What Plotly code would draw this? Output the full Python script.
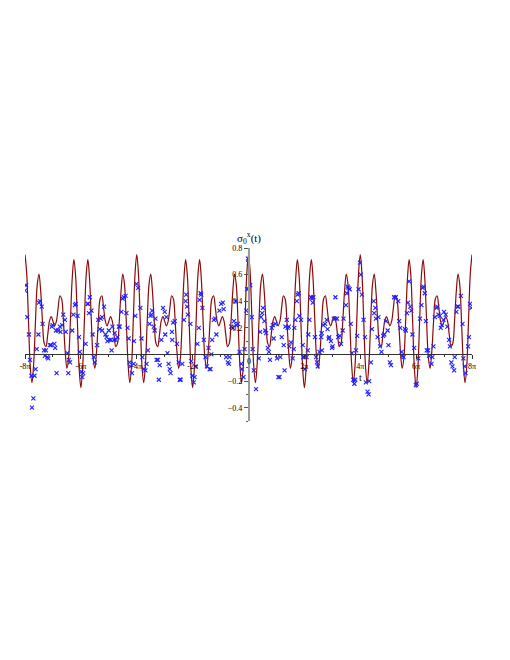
import numpy as np
import plotly.graph_objects as go

# red curve, sampled every pi/16 from -8pi to 8pi
curve_k = list(range(-128, 129))
curve_y = [
    0.750, 0.602, 0.250, -0.088, -0.212, -0.062, 0.250, 0.523,
    0.604, 0.474, 0.250, 0.083, 0.059, 0.147, 0.250, 0.285,
    0.250, 0.215, 0.250, 0.353, 0.441, 0.417, 0.250, 0.026,
    -0.104, -0.023, 0.250, 0.562, 0.712, 0.588, 0.250, -0.102,
    -0.250, -0.102, 0.250, 0.588, 0.712, 0.562, 0.250, -0.023,
    -0.104, 0.026, 0.250, 0.417, 0.441, 0.353, 0.250, 0.215,
    0.250, 0.285, 0.250, 0.147, 0.059, 0.083, 0.250, 0.474,
    0.604, 0.523, 0.250, -0.062, -0.212, -0.088, 0.250, 0.602,
    0.750, 0.602, 0.250, -0.088, -0.212, -0.062, 0.250, 0.523,
    0.604, 0.474, 0.250, 0.083, 0.059, 0.147, 0.250, 0.285,
    0.250, 0.215, 0.250, 0.353, 0.441, 0.417, 0.250, 0.026,
    -0.104, -0.023, 0.250, 0.562, 0.712, 0.588, 0.250, -0.102,
    -0.250, -0.102, 0.250, 0.588, 0.712, 0.562, 0.250, -0.023,
    -0.104, 0.026, 0.250, 0.417, 0.441, 0.353, 0.250, 0.215,
    0.250, 0.285, 0.250, 0.147, 0.059, 0.083, 0.250, 0.474,
    0.604, 0.523, 0.250, -0.062, -0.212, -0.088, 0.250, 0.602,
    0.750, 0.602, 0.250, -0.088, -0.212, -0.062, 0.250, 0.523,
    0.604, 0.474, 0.250, 0.083, 0.059, 0.147, 0.250, 0.285,
    0.250, 0.215, 0.250, 0.353, 0.441, 0.417, 0.250, 0.026,
    -0.104, -0.023, 0.250, 0.562, 0.712, 0.588, 0.250, -0.102,
    -0.250, -0.102, 0.250, 0.588, 0.712, 0.562, 0.250, -0.023,
    -0.104, 0.026, 0.250, 0.417, 0.441, 0.353, 0.250, 0.215,
    0.250, 0.285, 0.250, 0.147, 0.059, 0.083, 0.250, 0.474,
    0.604, 0.523, 0.250, -0.062, -0.212, -0.088, 0.250, 0.602,
    0.750, 0.602, 0.250, -0.088, -0.212, -0.062, 0.250, 0.523,
    0.604, 0.474, 0.250, 0.083, 0.059, 0.147, 0.250, 0.285,
    0.250, 0.215, 0.250, 0.353, 0.441, 0.417, 0.250, 0.026,
    -0.104, -0.023, 0.250, 0.562, 0.712, 0.588, 0.250, -0.102,
    -0.250, -0.102, 0.250, 0.588, 0.712, 0.562, 0.250, -0.023,
    -0.104, 0.026, 0.250, 0.417, 0.441, 0.353, 0.250, 0.215,
    0.250, 0.285, 0.250, 0.147, 0.059, 0.083, 0.250, 0.474,
    0.604, 0.523, 0.250, -0.062, -0.212, -0.088, 0.250, 0.602,
    0.750,
]

# blue samples: t in units of pi, and value
sample_t = [
    -7.96, -8.00, -7.92, -7.86, -7.82, -7.77, -7.66, -7.62, -7.70, -7.75,
    -7.58, -7.52, -7.46, -7.50, -7.40, -7.37, -7.32, -7.25, -7.29, -7.20,
    -7.17, -7.11, -7.07, -7.04, -7.01, -6.95, -6.92, -6.89, -6.87, -6.81,
    -6.75, -6.73, -6.67, -6.63, -6.57, -6.54, -6.48, -6.43, -6.39, -6.45,
    -6.31, -6.27, -6.21, -6.18, -6.12, -6.07, -6.04, -5.98, -5.95, -5.92,
    -5.83, -5.76, -5.74, -5.68, -5.62, -5.71, -5.58, -5.54, -5.50, -5.42,
    -5.38, -5.29, -5.24, -5.32, -5.24, -5.17, -5.12, -5.08, -5.05, -5.00,
    -4.98, -4.93, -4.87, -4.90, -4.82, -4.79, -4.76, -4.69, -4.64, -4.61,
    -4.55, -4.51, -4.46, -4.40, -4.37, -4.33, -4.29, -4.26, -4.23, -4.17,
    -4.11, -4.10, -4.05, -4.01, -3.95, -3.87, -3.83, -3.80, -3.74, -3.69,
    -3.65, -3.60, -3.54, -3.51, -3.48, -3.45, -3.39, -3.36, -3.33, -3.29,
    -3.24, -3.21, -3.18, -3.12, -3.06, -3.00, -2.98, -2.94, -2.90, -2.86,
    -2.82, -2.79, -2.74,
    -2.73, -2.70, -2.64, -2.56, -2.50, -2.46, -2.43, -2.37, -2.31, -2.25,
    -2.23, -2.20, -2.17, -2.08, -2.05, -2.01, -1.93, -1.96, -1.89, -1.83,
    -1.78, -1.75, -1.71, -1.69, -1.65, -1.60, -1.54, -1.49, -1.43, -1.39,
    -1.36, -1.33, -1.30, -1.24, -1.19, -1.15, -1.04, -0.98, -0.92, -0.89,
    -0.80, -0.74, -0.70, -0.68, -0.62, -0.56, -0.52, -0.46, -0.44, -0.38,
    -0.32, -0.26, -0.23, -0.18, -0.14, -0.08,
    -0.02, -0.05, 0.06, 0.12, 0.15, 0.19, 0.27, 0.37, 0.42, 0.45,
    0.49, 0.52, 0.57, 0.60, 0.63, 0.69, 0.73, 0.77, 0.83, 0.87,
    0.90, 0.96, 1.02, 1.07, 1.11, 1.14, 1.19, 1.26, 1.29, 1.32,
    1.37, 1.40, 1.44, 1.46, 1.52, 1.58, 1.62, 1.64, 1.68, 1.73,
    1.76, 1.80, 1.82, 1.88, 1.94, 1.96, 2.00, 2.02, 2.08, 2.12,
    2.14, 2.18, 2.24, 2.27, 2.30, 2.32, 2.38, 2.42, 2.45, 2.48,
    2.54, 2.60, 2.62,
    2.63, 2.68, 2.74, 2.80, 2.83, 2.89, 2.87, 2.95, 2.99, 3.01,
    3.05, 3.11, 3.11, 3.17, 3.21, 3.27, 3.31, 3.37, 3.40, 3.49,
    3.52, 3.55, 3.58, 3.62, 3.66, 3.70, 3.75, 3.79, 3.82, 3.85,
    3.89, 3.94, 3.99, 4.02, 4.06, 4.12, 4.17, 4.20, 4.26, 4.30,
    4.32, 4.38, 4.42, 4.48, 4.50, 4.54, 4.56, 4.62, 4.65, 4.71,
    4.76, 4.82, 4.86, 4.92, 4.98, 5.01, 5.06, 5.10, 5.21, 5.27,
    5.36, 5.39, 5.43, 5.48, 5.51, 5.55, 5.60, 5.63, 5.67, 5.71,
    5.75, 5.79, 5.83, 5.87, 5.93, 5.99, 6.02, 6.08, 6.14, 6.19,
    6.23, 6.26, 6.31, 6.35, 6.38, 6.43, 6.46, 6.55, 6.58, 6.62,
    6.67, 6.73, 6.76, 6.80, 6.85, 6.88, 6.92, 6.98, 7.00, 7.06,
    7.12, 7.18, 7.21, 7.26, 7.30, 7.36, 7.38, 7.44, 7.48, 7.51,
    7.60, 7.66, 7.69, 7.74, 7.77, 7.86, 7.89, 7.93, 7.98,
]
sample_v = [
    0.52, 0.48, 0.28, 0.15, -0.04, -0.16, -0.16, -0.11, -0.33, -0.40,
    0.04, 0.15, 0.40, 0.39, 0.36, 0.23, 0.03, 0.03, -0.01, -0.02,
    -0.03, 0.07, 0.07, 0.21, 0.22, 0.08, 0.05, 0.18, -0.14, 0.18,
    0.21, 0.17, 0.22, 0.30, 0.26, 0.17, 0.01, -0.04, -0.06, -0.14,
    0.18, 0.30, 0.37, 0.38, 0.29, 0.13, 0.02, -0.13, -0.17, -0.14,
    0.08, 0.38, 0.38, 0.43, 0.33, 0.31, 0.15, -0.02, -0.06, 0.07,
    0.26, 0.27, 0.28, 0.19, 0.18, 0.36, 0.15, 0.13, 0.10, 0.18,
    0.11, 0.11, 0.21, 0.03, 0.11, 0.16, 0.11, 0.13, 0.21, 0.21,
    0.32, 0.42, 0.43, 0.44, 0.31, 0.20, 0.12, -0.06, -0.09, -0.14,
    -0.07, 0.10, 0.29, 0.53, 0.50, 0.35, 0.12, -0.02, -0.11, -0.12,
    -0.07, 0.03, 0.23, 0.29, 0.30, 0.33, 0.21, 0.18, 0.27, -0.04,
    -0.04, -0.19, -0.08, 0.11, 0.35, 0.32, 0.15, 0.28, 0.01, -0.07,
    -0.11, -0.14, 0.17,
    0.11, 0.24, 0.25, 0.08, -0.06, -0.19, -0.19, -0.07, 0.26, 0.40,
    0.45, 0.36, 0.30, 0.23, -0.05, -0.16, -0.17, -0.21, -0.09, 0.08,
    0.20, 0.41, 0.46, 0.45, 0.35, 0.11, -0.02, -0.09, 0.05, -0.11,
    -0.11, 0.00, 0.11, 0.26, 0.27, 0.15, 0.33, 0.38, 0.39, 0.34,
    -0.02, -0.06, -0.07, -0.02, 0.21, 0.20, 0.25, 0.40, 0.22, 0.23,
    0.02, -0.07, -0.11, -0.17, 0.04, 0.33,
    0.72, 0.49, 0.52, 0.28, 0.04, -0.12, -0.26, -0.03, 0.17, 0.28,
    0.31, 0.35, 0.25, 0.18, 0.16, 0.05, 0.02, -0.04, 0.20, 0.22,
    0.12, 0.23, -0.03, -0.17, -0.17, -0.02, 0.13, 0.07, -0.12, 0.21,
    0.26, 0.20, 0.21, 0.06, 0.09, -0.03, 0.04, 0.20, 0.26, 0.40,
    0.45, 0.46, 0.29, 0.26, 0.07, -0.02, -0.02, -0.11, -0.02, 0.03,
    0.15, 0.26, 0.43, 0.42, 0.39, 0.43, 0.13, -0.02, -0.06, -0.09,
    0.02, 0.13, 0.16,
    0.03, 0.22, 0.23, 0.26, 0.19, 0.13, 0.12, 0.10, 0.05, 0.06,
    0.27, 0.27, 0.43, 0.27, 0.13, 0.14, 0.08, 0.18, 0.27, 0.37,
    0.46, 0.51, 0.50, 0.49, 0.23, 0.01, -0.19, -0.22, -0.19, 0.03,
    0.14, 0.49, 0.69, 0.60, 0.45, 0.26, 0.13, -0.21, -0.28, -0.30,
    -0.20, -0.06, 0.19, 0.40, 0.31, 0.35, 0.27, 0.13, 0.28, 0.06,
    0.02, 0.14, 0.15, 0.25, 0.18, 0.07, -0.06, -0.08, 0.43, 0.43,
    0.40, 0.25, 0.20, 0.02, -0.01, -0.02, 0.19, 0.18, 0.31, 0.39,
    0.55, 0.36, 0.33, 0.15, 0.05, -0.23, -0.22, -0.03, 0.27, 0.37,
    0.50, 0.51, 0.46, 0.25, 0.03, 0.03, -0.01, -0.07, -0.02, 0.06,
    0.28, 0.35, 0.36, 0.30, 0.29, 0.20, 0.22, 0.26, 0.32, 0.30,
    0.21, 0.11, 0.06, -0.06, -0.09, -0.12, -0.02, 0.32, 0.36, 0.36,
    0.44, 0.23, -0.03, -0.09, -0.14, 0.06, 0.13, 0.38, 0.35,
]

x_tick_mult = [-8, -6, -4, -2, 2, 4, 6, 8]
x_tick_text = ["-8π", "-6π", "-4π", "-2π", "2π", "4π", "6π", "8π"]
y_tick_vals = [-0.4, -0.2, 0.2, 0.4, 0.6, 0.8]
y_tick_text = ["−0.4", "−0.2", "0.2", "0.4", "0.6", "0.8"]

curve_t = np.array(curve_k) * np.pi / 16
sample_x = np.array(sample_t) * np.pi

serif = "Liberation Serif"
fig = go.Figure()

fig.add_trace(go.Scatter(
    x=curve_t, y=curve_y,
    mode="lines",
    line=dict(color="#8b0a0a", width=1.2, shape="spline", smoothing=1),
    hoverinfo="skip",
))

fig.add_trace(go.Scatter(
    x=sample_x, y=sample_v,
    mode="markers",
    marker=dict(symbol="x-thin", size=4, color="#2020ff",
                line=dict(color="#2020ff", width=1.1)),
))

x_range = [-8 * np.pi, 8 * np.pi]
y_range = [-0.5, 0.8]

# the page body adds an 8px offset, margins account for it
fig.update_layout(
    width=510, height=660,
    margin=dict(l=17, r=45.5, t=239.5, b=247, pad=0),
    paper_bgcolor="white", plot_bgcolor="white",
    showlegend=False,
    font=dict(family=serif, color="black"),
    xaxis=dict(
        range=x_range, anchor="free", automargin=False,
        position=(0 - y_range[0]) / (y_range[1] - y_range[0]),
        showgrid=False, zeroline=False,
        showline=True, linecolor="#333", linewidth=1,
        ticks="outside", ticklen=4, tickcolor="#333",
        tickvals=[m * np.pi for m in x_tick_mult], ticktext=x_tick_text,
        tickfont=dict(family=serif, size=8, color="black"),
        minor=dict(tickvals=[m * np.pi for m in [-7, -5, -3, -1, 1, 3, 5, 7]],
                   ticks="outside", ticklen=2, tickcolor="#333"),
    ),
    yaxis=dict(
        range=y_range, anchor="free", position=0.5, automargin=False,
        showgrid=False, zeroline=False,
        showline=True, linecolor="#999", linewidth=1.5,
        ticks="outside", ticklen=4, tickcolor="#555",
        tickvals=y_tick_vals, ticktext=y_tick_text,
        tickfont=dict(family=serif, size=8, color="black"),
        minor=dict(tickvals=[-0.5, -0.3, -0.1, 0.1, 0.3, 0.5, 0.7],
                   ticks="outside", ticklen=2, tickcolor="#555"),
    ),
)

# axis labels
fig.add_annotation(
    text="σ<sub>0</sub><sup>x</sup>(t)", xref="paper", yref="paper",
    x=0.5, y=1.06, xanchor="center", yanchor="middle", showarrow=False,
    font=dict(family=serif, size=11, color="black"),
)
fig.add_annotation(
    text="t", xref="x", yref="paper", x=4 * np.pi, y=0.254,
    xanchor="center", yanchor="middle", showarrow=False,
    font=dict(family=serif, size=10, color="black"),
)
fig.add_annotation(
    text="0", xref="x", yref="paper", x=0, y=0.346,
    xanchor="center", yanchor="middle", showarrow=False,
    font=dict(family=serif, size=8, color="black"),
)

fig.write_html("out.html")
